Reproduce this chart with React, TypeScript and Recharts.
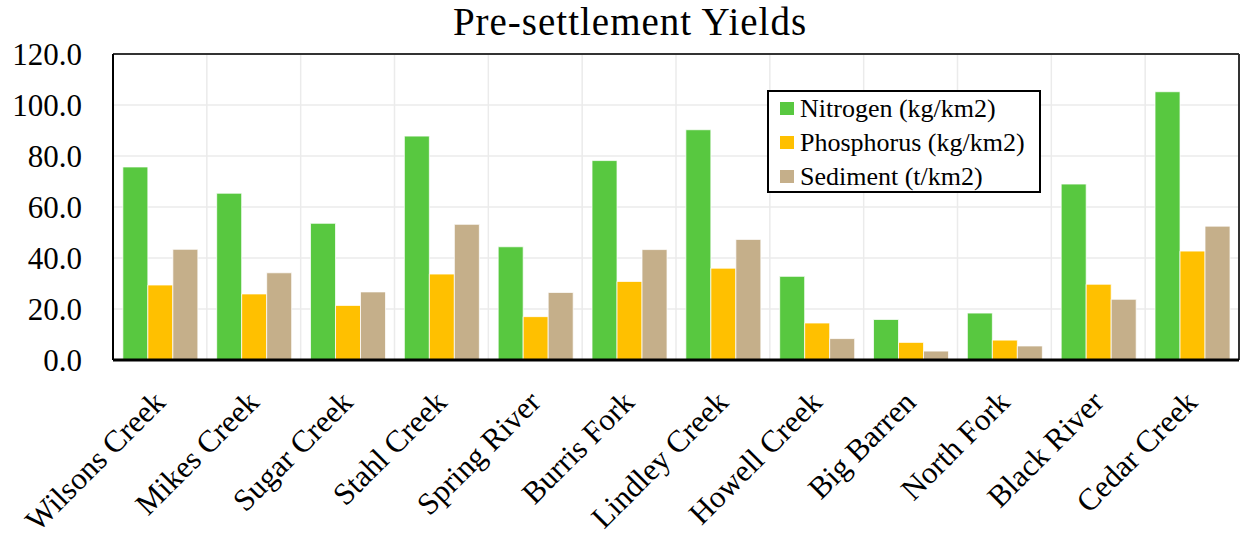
import React from 'react';
import { BarChart, Bar, XAxis, YAxis, CartesianGrid, Legend } from 'recharts';

const FONT = '"Liberation Serif", "Times New Roman", serif';

const streams = [
  'Wilsons Creek', 'Mikes Creek', 'Sugar Creek', 'Stahl Creek', 'Spring River', 'Burris Fork',
  'Lindley Creek', 'Howell Creek', 'Big Barren', 'North Fork', 'Black River', 'Cedar Creek',
];
const nitrogen = [75.7, 65.4, 53.6, 87.8, 44.4, 78.2, 90.3, 32.8, 15.9, 18.4, 69.0, 105.2];
const phosphorus = [29.4, 25.9, 21.4, 33.7, 17.0, 30.8, 36.0, 14.5, 6.9, 7.8, 29.7, 42.7];
const sediment = [43.4, 34.2, 26.7, 53.2, 26.5, 43.3, 47.3, 8.4, 3.5, 5.5, 23.8, 52.5];
const yTicks = [0, 20, 40, 60, 80, 100, 120];

const data = streams.map((name, i) => ({
  name,
  nitrogen: nitrogen[i],
  phosphorus: phosphorus[i],
  sediment: sediment[i],
}));

// rotated stream names under each group
const StreamTick = (props: any) => {
  const { x, y, payload } = props;
  return (
    <g transform={`translate(${x + 7},${y + 44})`}>
      <text textAnchor="end" transform="rotate(-45)" fontSize={31} fontFamily={FONT} fill="#000">
        {payload.value}
      </text>
    </g>
  );
};

// legend drawn as svg so the serif face is used for the labels
const LegendBox = (props: any) => {
  const { payload } = props;
  return (
    <svg width={270} height={99} style={{ display: 'block' }}>
      {payload.map((entry: any, i: number) => (
        <g key={entry.value} transform={`translate(11,${i * 34})`}>
          <rect x={0} y={10} width={14} height={13} fill={entry.color} />
          <text x={20} y={25} fontFamily={FONT} fontSize={26} fill="#000">
            {entry.value}
          </text>
        </g>
      ))}
    </svg>
  );
};

export default function App() {
  return (
    <div style={{ position: 'absolute', left: 0, top: 0, width: 1244, height: 541, background: '#fff', fontFamily: FONT }}>
      <div
        style={{
          position: 'absolute', left: 430, top: 2, width: 400, textAlign: 'center',
          fontSize: 39, lineHeight: '39px', letterSpacing: 1, color: '#000',
        }}
      >
        Pre-settlement Yields
      </div>
      <BarChart
        width={1244}
        height={541}
        data={data}
        margin={{ top: 54, right: 5, bottom: 81, left: 13 }}
        barCategoryGap="10.5%"
        barGap={0}
      >
        <CartesianGrid
          stroke="#ebebeb"
          strokeWidth={1.5}
          verticalCoordinatesGenerator={({ offset }: any) =>
            streams.slice(1).map((_, i) => offset.left + ((i + 1) * offset.width) / streams.length)
          }
        />
        {/* top and right edges of the plot frame */}
        <CartesianGrid
          stroke="#333"
          strokeWidth={2}
          horizontalCoordinatesGenerator={({ offset }: any) => [offset.top]}
          verticalCoordinatesGenerator={({ offset }: any) => [offset.left + offset.width]}
        />
        <XAxis
          dataKey="name"
          height={100}
          interval={0}
          tickLine={false}
          tickSize={0}
          tickMargin={0}
          axisLine={{ stroke: '#000', strokeWidth: 3 }}
          tick={<StreamTick />}
        />
        <YAxis
          width={100}
          domain={[0, 120]}
          ticks={yTicks}
          tickLine={false}
          tickSize={0}
          tickMargin={31}
          axisLine={{ stroke: '#000', strokeWidth: 2 }}
          tickFormatter={(v: number) => v.toFixed(1)}
          tick={{ fill: '#000', fontSize: 31, fontFamily: FONT }}
        />
        <Legend
          layout="vertical"
          align="center"
          verticalAlign="middle"
          content={<LegendBox />}
          wrapperStyle={{
            left: 767, top: 90, width: 274, height: 103, border: '2px solid #000',
            background: '#fff', boxSizing: 'border-box',
          }}
        />
        <Bar dataKey="nitrogen" name="Nitrogen (kg/km2)" fill="#58c840" stroke="#fff" strokeWidth={0.75} isAnimationActive={false} />
        <Bar dataKey="phosphorus" name="Phosphorus (kg/km2)" fill="#ffc000" stroke="#fff" strokeWidth={0.75} isAnimationActive={false} />
        <Bar dataKey="sediment" name="Sediment (t/km2)" fill="#c5af8a" stroke="#fff" strokeWidth={0.75} isAnimationActive={false} />
      </BarChart>
    </div>
  );
}
